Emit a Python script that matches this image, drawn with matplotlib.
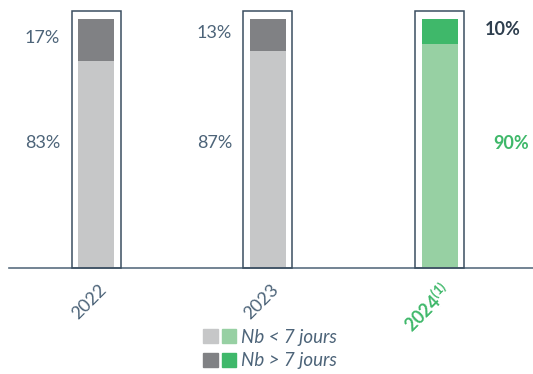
import matplotlib
matplotlib.use("Agg")
import matplotlib.pyplot as plt
from matplotlib.patches import Rectangle, Patch
from matplotlib.legend_handler import HandlerTuple

plt.rcParams['font.family'] = ['Lato', 'DejaVu Sans']
plt.rcParams['mathtext.fontset'] = 'custom'
plt.rcParams['mathtext.rm'] = 'Lato'
plt.rcParams['mathtext.bf'] = 'Lato:bold'
plt.rcParams['mathtext.default'] = 'regular'

years = ['2022', '2023', '2024$^{(1)}$']
under_7 = [83, 87, 90]
over_7 = [17, 13, 10]

SLATE = '#4d6479'
DARK = '#2e3e4e'
LIGHT_GREY = '#c6c7c8'
DARK_GREY = '#808184'
LIGHT_GREEN = '#97d0a3'
GREEN = '#3fb86a'
BOX = '#3b4e60'

fig = plt.figure(figsize=(5.33, 3.74), dpi=100)
ax = fig.add_axes([9 / 533, (374 - 268) / 374, 1 - 9 / 533, (268 - 19) / 374])

x = list(range(len(years)))
low_colors = [LIGHT_GREY, LIGHT_GREY, LIGHT_GREEN]
high_colors = [DARK_GREY, DARK_GREY, GREEN]

ax.bar(x, under_7, width=0.21, color=low_colors, zorder=2)
ax.bar(x, over_7, bottom=under_7, width=0.21, color=high_colors, zorder=2)

# outline boxes around each bar
for xi in x:
    ax.add_patch(Rectangle((xi - 0.1425, 0), 0.285, 103.2, fill=False,
                           edgecolor=BOX, linewidth=1.1, clip_on=False, zorder=3))

ax.set_xlim(-0.506, 2.541)
ax.set_ylim(0, 100)

# value labels
for i in range(2):
    ax.annotate(f'{over_7[i]}%', (x[i], 100 - over_7[i] / 2), xytext=(-36, 2),
                textcoords='offset pixels', ha='right', va='center',
                fontsize=13, color=SLATE)
    ax.annotate(f'{under_7[i]}%', (x[i], 50), xytext=(-36, 0),
                textcoords='offset pixels', ha='right', va='center',
                fontsize=13, color=SLATE)
ax.annotate(f'{over_7[2]}%', (x[2], 100 - over_7[2] / 2), xytext=(45, 2),
            textcoords='offset pixels', ha='left', va='center',
            fontsize=13, color=DARK, fontweight='bold')
ax.annotate(f'{under_7[2]}%', (x[2], 50), xytext=(53, 0),
            textcoords='offset pixels', ha='left', va='center',
            fontsize=13, color=GREEN, fontweight='bold')

# rotated year labels
for i, lab in enumerate(years):
    last = i == len(years) - 1
    ax.annotate(lab, (x[i], 0), xytext=(8, -19), textcoords='offset pixels',
                rotation=45, rotation_mode='anchor', ha='right', va='center',
                fontsize=13, color=GREEN if last else SLATE,
                fontweight='bold' if last else 'normal', annotation_clip=False)

for s in ['top', 'right', 'left']:
    ax.spines[s].set_visible(False)
ax.spines['bottom'].set_color('#5a6e80')
ax.spines['bottom'].set_linewidth(1.2)
ax.set_xticks([])
ax.set_yticks([])

h1 = (Patch(color=LIGHT_GREY), Patch(color=LIGHT_GREEN))
h2 = (Patch(color=DARK_GREY), Patch(color=GREEN))
leg = fig.legend([h1, h2], ['Nb < 7 jours', 'Nb > 7 jours'],
                 handler_map={tuple: HandlerTuple(ndivide=None, pad=0.2)},
                 loc='center', bbox_to_anchor=(270 / 533, 1 - 349 / 374),
                 frameon=False, fontsize=13.5, handlelength=1.75, handleheight=0.8,
                 handletextpad=0.25, labelspacing=0.35, borderpad=0)
for t in leg.get_texts():
    t.set_color(SLATE)
    t.set_style('italic')

fig.savefig('out.png', dpi=100)
